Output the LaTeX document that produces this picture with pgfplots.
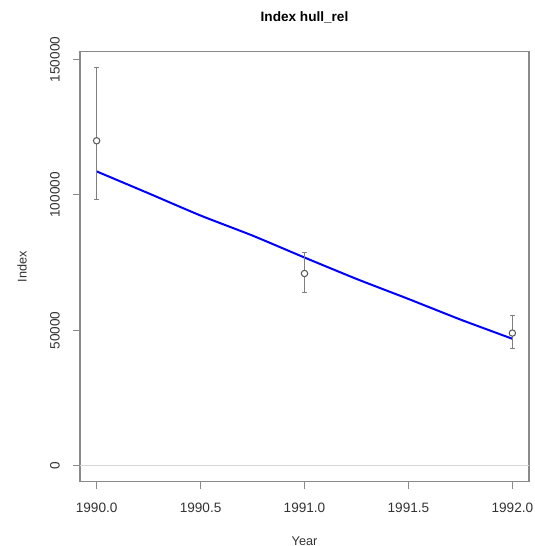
\documentclass[border=0pt]{standalone}
\usepackage{fontspec}
\setmainfont{Liberation Sans}
\usepackage{pgfplots}
\pgfplotsset{compat=1.18}

\definecolor{boxgray}{HTML}{8A8A8A}
\definecolor{labgray}{HTML}{333333}
\definecolor{bargray}{HTML}{7F7F7F}
\definecolor{zerogray}{HTML}{D6D6D6}

\begin{document}
\begin{tikzpicture}
\path[use as bounding box] (0,0) rectangle (401.25pt,409.5pt);
\begin{axis}[
  scale only axis,
  width=336.75pt, height=322.5pt,
  at={(60pt,48.2pt)}, anchor=south west,
  xmin=1989.92, xmax=1992.08,
  ymin=-5880, ymax=152880,
  scaled y ticks=false,
  axis line style={boxgray, line width=0.8pt},
  tick style={boxgray, line width=0.8pt},
  major tick length=5.25pt,
  tick align=outside,
  xtick pos=bottom, ytick pos=left,
  xtick={1990,1990.5,1991,1991.5,1992},
  xticklabels={1990.0,1990.5,1991.0,1991.5,1992.0},
  ytick={0,50000,100000,150000},
  yticklabels={0,50000,100000,150000},
  ticklabel style={font=\fontsize{10.2pt}{12pt}\selectfont, text=labgray, inner sep=0pt},
  xticklabel style={anchor=north},
  xticklabel shift=10.5pt,
  yticklabel style={rotate=90, anchor=south},
  yticklabel shift=9.75pt,
  title={\textbf{Index hull\_rel}},
  title style={at={(axis description cs:0.5,1.0516)}, anchor=base, inner sep=0pt,
    font=\fontsize{10.2pt}{12pt}\selectfont, text=black},
  xlabel={Year},
  xlabel style={at={(axis description cs:0.5,-0.1473)}, anchor=base, inner sep=0pt,
    font=\fontsize{9.5pt}{11pt}\selectfont, text=labgray},
  ylabel={Index},
  ylabel style={at={(axis description cs:-0.1188,0.5)}, anchor=base, rotate=0, inner sep=0pt,
    font=\fontsize{9.5pt}{11pt}\selectfont, text=labgray},
  clip=false,
]
% reference line at zero
\addplot[zerogray, line width=0.8pt, forget plot] coordinates {(1989.92,0) (1992.08,0)};

% fitted index
\addplot[blue, line width=1.5pt, smooth, tension=0.3] coordinates {
  (1990.00,108700) (1990.25,100600) (1990.50,92400) (1990.75,85000)
  (1991.00,76900) (1991.25,69000) (1991.50,61600) (1991.75,54000)
  (1992.00,46900)
};

% observed index with intervals
\addplot[draw=none, mark=none,
  error bars/.cd, y dir=both, y explicit,
  error bar style={bargray, line width=0.8pt},
  error mark options={bargray, line width=0.8pt, mark size=1.8pt, rotate=90}]
  coordinates {
  (1990,120000) += (0,26900) -= (0,21850)
  (1991,71000)  += (0,7750)  -= (0,6900)
  (1992,49000)  += (0,6350)  -= (0,5800)
};
\addplot[only marks, mark=*, mark size=2.4pt,
  mark options={draw=labgray!80!white, fill=white, line width=0.8pt}]
  coordinates {(1990,120000) (1991,71000) (1992,49000)};
\end{axis}
\end{tikzpicture}
\end{document}
